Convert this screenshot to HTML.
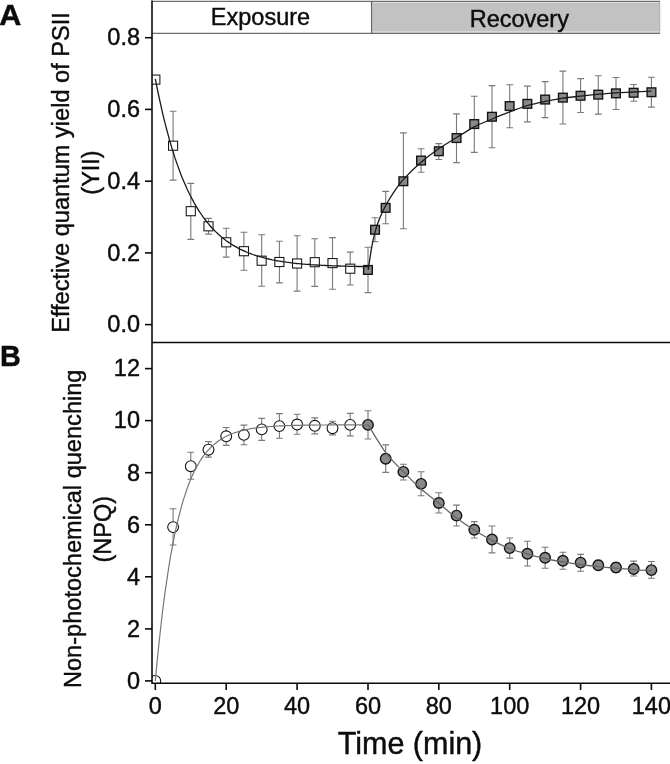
<!DOCTYPE html>
<html><head><meta charset="utf-8"><title>Figure</title>
<style>
html,body{margin:0;padding:0;background:#fff;}
body{width:670px;height:764px;position:relative;overflow:hidden;font-family:"Liberation Sans",sans-serif;}
</style></head><body>
<svg width="670" height="764" viewBox="0 0 670 764" style="position:absolute;left:0;top:0;transform:translateZ(0);will-change:transform">
<rect x="372" y="1.5" width="288" height="31.5" fill="#dedede"/>
<rect x="372.6" y="2.9" width="286.6" height="28.3" fill="#c2c2c2"/>
<g stroke="#6e6e6e" stroke-width="1.3" fill="none">
<path d="M152 1.3 H660"/><path d="M152 33.3 H660"/><path d="M371.6 1 V34" stroke="#666" stroke-width="1.3"/>
</g>
<path d="M659.7 2 V33" stroke="#aaa" stroke-width="1"/>
<defs><clipPath id="cp"><rect x="152" y="0" width="518" height="683.2"/></clipPath></defs>
<g clip-path="url(#cp)">
<g stroke="#7a7a7a" stroke-width="1.12" fill="none">
<path d="M173.1 111.3 V180.1 M169.7 111.3 H176.5 M169.7 180.1 H176.5"/>
<path d="M190.8 183.4 V239.4 M187.4 183.4 H194.2 M187.4 239.4 H194.2"/>
<path d="M208.5 218.4 V234.1 M205.1 218.4 H211.9 M205.1 234.1 H211.9"/>
<path d="M226.2 228.3 V257.1 M222.8 228.3 H229.6 M222.8 257.1 H229.6"/>
<path d="M243.9 232.2 V270.2 M240.5 232.2 H247.3 M240.5 270.2 H247.3"/>
<path d="M261.7 234.8 V286.2 M258.3 234.8 H265.1 M258.3 286.2 H265.1"/>
<path d="M279.4 241.2 V282.9 M276.0 241.2 H282.8 M276.0 282.9 H282.8"/>
<path d="M297.1 235.8 V291.1 M293.7 235.8 H300.5 M293.7 291.1 H300.5"/>
<path d="M314.8 238.7 V286.4 M311.4 238.7 H318.2 M311.4 286.4 H318.2"/>
<path d="M332.5 237.6 V289.3 M329.1 237.6 H335.9 M329.1 289.3 H335.9"/>
<path d="M350.2 252.1 V285.0 M346.8 252.1 H353.6 M346.8 285.0 H353.6"/>
<path d="M368.0 247.2 V292.6 M364.6 247.2 H371.4 M364.6 292.6 H371.4"/>
<path d="M375.0 217.7 V241.7 M371.6 217.7 H378.4 M371.6 241.7 H378.4"/>
<path d="M385.7 191.4 V223.7 M382.3 191.4 H389.1 M382.3 223.7 H389.1"/>
<path d="M403.4 132.9 V228.8 M400.0 132.9 H406.8 M400.0 228.8 H406.8"/>
<path d="M421.1 148.8 V172.2 M417.7 148.8 H424.5 M417.7 172.2 H424.5"/>
<path d="M438.8 143.6 V159.5 M435.4 143.6 H442.2 M435.4 159.5 H442.2"/>
<path d="M456.5 113.9 V162.6 M453.1 113.9 H459.9 M453.1 162.6 H459.9"/>
<path d="M474.3 96.3 V152.4 M470.9 96.3 H477.7 M470.9 152.4 H477.7"/>
<path d="M492.0 85.6 V147.8 M488.6 85.6 H495.4 M488.6 147.8 H495.4"/>
<path d="M509.7 84.8 V127.8 M506.3 84.8 H513.1 M506.3 127.8 H513.1"/>
<path d="M527.4 86.1 V121.9 M524.0 86.1 H530.8 M524.0 121.9 H530.8"/>
<path d="M545.1 81.6 V117.6 M541.7 81.6 H548.5 M541.7 117.6 H548.5"/>
<path d="M562.9 71.1 V124.0 M559.5 71.1 H566.3 M559.5 124.0 H566.3"/>
<path d="M580.6 78.6 V112.5 M577.2 78.6 H584.0 M577.2 112.5 H584.0"/>
<path d="M598.3 75.7 V114.1 M594.9 75.7 H601.7 M594.9 114.1 H601.7"/>
<path d="M616.0 77.5 V109.5 M612.6 77.5 H619.4 M612.6 109.5 H619.4"/>
<path d="M633.7 84.5 V101.2 M630.3 84.5 H637.1 M630.3 101.2 H637.1"/>
<path d="M651.4 77.3 V107.1 M648.0 77.3 H654.8 M648.0 107.1 H654.8"/>
</g>
<g stroke="#7a7a7a" stroke-width="1.12" fill="none">
<path d="M173.1 508.7 V545.0 M169.7 508.7 H176.5 M169.7 545.0 H176.5"/>
<path d="M190.8 452.3 V479.3 M187.4 452.3 H194.2 M187.4 479.3 H194.2"/>
<path d="M208.5 441.6 V457.1 M205.1 441.6 H211.9 M205.1 457.1 H211.9"/>
<path d="M226.2 427.5 V445.4 M222.8 427.5 H229.6 M222.8 445.4 H229.6"/>
<path d="M243.9 425.1 V444.7 M240.5 425.1 H247.3 M240.5 444.7 H247.3"/>
<path d="M261.7 418.4 V440.4 M258.3 418.4 H265.1 M258.3 440.4 H265.1"/>
<path d="M279.4 413.6 V438.2 M276.0 413.6 H282.8 M276.0 438.2 H282.8"/>
<path d="M297.1 414.2 V434.2 M293.7 414.2 H300.5 M293.7 434.2 H300.5"/>
<path d="M314.8 417.9 V433.9 M311.4 417.9 H318.2 M311.4 433.9 H318.2"/>
<path d="M332.5 421.3 V434.9 M329.1 421.3 H335.9 M329.1 434.9 H335.9"/>
<path d="M350.2 413.4 V435.9 M346.8 413.4 H353.6 M346.8 435.9 H353.6"/>
<path d="M368.0 410.8 V439.0 M364.6 410.8 H371.4 M364.6 439.0 H371.4"/>
<path d="M385.7 444.9 V472.4 M382.3 444.9 H389.1 M382.3 472.4 H389.1"/>
<path d="M403.4 464.3 V480.0 M400.0 464.3 H406.8 M400.0 480.0 H406.8"/>
<path d="M421.1 471.7 V495.8 M417.7 471.7 H424.5 M417.7 495.8 H424.5"/>
<path d="M438.8 492.8 V513.0 M435.4 492.8 H442.2 M435.4 513.0 H442.2"/>
<path d="M456.5 505.1 V526.0 M453.1 505.1 H459.9 M453.1 526.0 H459.9"/>
<path d="M474.3 521.6 V538.0 M470.9 521.6 H477.7 M470.9 538.0 H477.7"/>
<path d="M492.0 526.0 V552.9 M488.6 526.0 H495.4 M488.6 552.9 H495.4"/>
<path d="M509.7 538.0 V558.1 M506.3 538.0 H513.1 M506.3 558.1 H513.1"/>
<path d="M527.4 541.3 V566.0 M524.0 541.3 H530.8 M524.0 566.0 H530.8"/>
<path d="M545.1 547.3 V568.2 M541.7 547.3 H548.5 M541.7 568.2 H548.5"/>
<path d="M562.9 552.2 V569.3 M559.5 552.2 H566.3 M559.5 569.3 H566.3"/>
<path d="M580.6 554.4 V571.2 M577.2 554.4 H584.0 M577.2 571.2 H584.0"/>
<path d="M598.3 560.4 V569.7 M594.9 560.4 H601.7 M594.9 569.7 H601.7"/>
<path d="M616.0 562.6 V572.0 M612.6 562.6 H619.4 M612.6 572.0 H619.4"/>
<path d="M633.7 561.1 V576.0 M630.3 561.1 H637.1 M630.3 576.0 H637.1"/>
<path d="M651.4 561.5 V578.3 M648.0 561.5 H654.8 M648.0 578.3 H654.8"/>
</g>
<rect x="150.80" y="75.05" width="9.1" height="9.1" fill="#fff" stroke="#141414" stroke-width="1.05"/>
<rect x="168.52" y="141.15" width="9.1" height="9.1" fill="#fff" stroke="#141414" stroke-width="1.05"/>
<rect x="186.23" y="206.65" width="9.1" height="9.1" fill="#fff" stroke="#141414" stroke-width="1.05"/>
<rect x="203.95" y="221.75" width="9.1" height="9.1" fill="#fff" stroke="#141414" stroke-width="1.05"/>
<rect x="221.67" y="237.75" width="9.1" height="9.1" fill="#fff" stroke="#141414" stroke-width="1.05"/>
<rect x="239.39" y="246.65" width="9.1" height="9.1" fill="#fff" stroke="#141414" stroke-width="1.05"/>
<rect x="257.10" y="256.15" width="9.1" height="9.1" fill="#fff" stroke="#141414" stroke-width="1.05"/>
<rect x="274.82" y="257.45" width="9.1" height="9.1" fill="#fff" stroke="#141414" stroke-width="1.05"/>
<rect x="292.54" y="258.95" width="9.1" height="9.1" fill="#fff" stroke="#141414" stroke-width="1.05"/>
<rect x="310.26" y="257.65" width="9.1" height="9.1" fill="#fff" stroke="#141414" stroke-width="1.05"/>
<rect x="327.97" y="258.55" width="9.1" height="9.1" fill="#fff" stroke="#141414" stroke-width="1.05"/>
<rect x="345.69" y="264.15" width="9.1" height="9.1" fill="#fff" stroke="#141414" stroke-width="1.05"/>
<rect x="363.6" y="265.6" width="8.7" height="8.7" fill="#888" stroke="#141414" stroke-width="1.4"/>
<rect x="370.7" y="225.4" width="8.7" height="8.7" fill="#888" stroke="#141414" stroke-width="1.4"/>
<rect x="381.3" y="203.5" width="8.7" height="8.7" fill="#888" stroke="#141414" stroke-width="1.4"/>
<rect x="399.0" y="176.9" width="8.7" height="8.7" fill="#888" stroke="#141414" stroke-width="1.4"/>
<rect x="416.7" y="156.2" width="8.7" height="8.7" fill="#888" stroke="#141414" stroke-width="1.4"/>
<rect x="434.5" y="146.9" width="8.7" height="8.7" fill="#888" stroke="#141414" stroke-width="1.4"/>
<rect x="452.2" y="133.7" width="8.7" height="8.7" fill="#888" stroke="#141414" stroke-width="1.4"/>
<rect x="469.9" y="119.7" width="8.7" height="8.7" fill="#888" stroke="#141414" stroke-width="1.4"/>
<rect x="487.6" y="112.4" width="8.7" height="8.7" fill="#888" stroke="#141414" stroke-width="1.4"/>
<rect x="505.3" y="101.7" width="8.7" height="8.7" fill="#888" stroke="#141414" stroke-width="1.4"/>
<rect x="523.0" y="99.5" width="8.7" height="8.7" fill="#888" stroke="#141414" stroke-width="1.4"/>
<rect x="540.8" y="95.2" width="8.7" height="8.7" fill="#888" stroke="#141414" stroke-width="1.4"/>
<rect x="558.5" y="93.3" width="8.7" height="8.7" fill="#888" stroke="#141414" stroke-width="1.4"/>
<rect x="576.2" y="91.4" width="8.7" height="8.7" fill="#888" stroke="#141414" stroke-width="1.4"/>
<rect x="593.9" y="90.3" width="8.7" height="8.7" fill="#888" stroke="#141414" stroke-width="1.4"/>
<rect x="611.6" y="89.0" width="8.7" height="8.7" fill="#888" stroke="#141414" stroke-width="1.4"/>
<rect x="629.3" y="88.4" width="8.7" height="8.7" fill="#888" stroke="#141414" stroke-width="1.4"/>
<rect x="647.1" y="87.9" width="8.7" height="8.7" fill="#888" stroke="#141414" stroke-width="1.4"/>
<circle cx="155.3" cy="680.9" r="5.4" fill="#fff" stroke="#141414" stroke-width="1.1"/>
<circle cx="173.1" cy="527.1" r="5.4" fill="#fff" stroke="#141414" stroke-width="1.1"/>
<circle cx="190.8" cy="466.2" r="5.4" fill="#fff" stroke="#141414" stroke-width="1.1"/>
<circle cx="208.5" cy="449.7" r="5.4" fill="#fff" stroke="#141414" stroke-width="1.1"/>
<circle cx="226.2" cy="436.3" r="5.4" fill="#fff" stroke="#141414" stroke-width="1.1"/>
<circle cx="243.9" cy="434.9" r="5.4" fill="#fff" stroke="#141414" stroke-width="1.1"/>
<circle cx="261.7" cy="429.4" r="5.4" fill="#fff" stroke="#141414" stroke-width="1.1"/>
<circle cx="279.4" cy="426.1" r="5.4" fill="#fff" stroke="#141414" stroke-width="1.1"/>
<circle cx="297.1" cy="424.5" r="5.4" fill="#fff" stroke="#141414" stroke-width="1.1"/>
<circle cx="314.8" cy="425.8" r="5.4" fill="#fff" stroke="#141414" stroke-width="1.1"/>
<circle cx="332.5" cy="428.2" r="5.4" fill="#fff" stroke="#141414" stroke-width="1.1"/>
<circle cx="350.2" cy="424.9" r="5.4" fill="#fff" stroke="#141414" stroke-width="1.1"/>
<circle cx="368.0" cy="424.9" r="5.25" fill="#888" stroke="#141414" stroke-width="1.4"/>
<circle cx="385.7" cy="458.8" r="5.25" fill="#888" stroke="#141414" stroke-width="1.4"/>
<circle cx="403.4" cy="471.9" r="5.25" fill="#888" stroke="#141414" stroke-width="1.4"/>
<circle cx="421.1" cy="483.9" r="5.25" fill="#888" stroke="#141414" stroke-width="1.4"/>
<circle cx="438.8" cy="503.0" r="5.25" fill="#888" stroke="#141414" stroke-width="1.4"/>
<circle cx="456.5" cy="515.6" r="5.25" fill="#888" stroke="#141414" stroke-width="1.4"/>
<circle cx="474.3" cy="529.8" r="5.25" fill="#888" stroke="#141414" stroke-width="1.4"/>
<circle cx="492.0" cy="539.5" r="5.25" fill="#888" stroke="#141414" stroke-width="1.4"/>
<circle cx="509.7" cy="548.1" r="5.25" fill="#888" stroke="#141414" stroke-width="1.4"/>
<circle cx="527.4" cy="553.7" r="5.25" fill="#888" stroke="#141414" stroke-width="1.4"/>
<circle cx="545.1" cy="557.8" r="5.25" fill="#888" stroke="#141414" stroke-width="1.4"/>
<circle cx="562.9" cy="560.7" r="5.25" fill="#888" stroke="#141414" stroke-width="1.4"/>
<circle cx="580.6" cy="562.6" r="5.25" fill="#888" stroke="#141414" stroke-width="1.4"/>
<circle cx="598.3" cy="565.2" r="5.25" fill="#888" stroke="#141414" stroke-width="1.4"/>
<circle cx="616.0" cy="567.5" r="5.25" fill="#888" stroke="#141414" stroke-width="1.4"/>
<circle cx="633.7" cy="569.0" r="5.25" fill="#888" stroke="#141414" stroke-width="1.4"/>
<circle cx="651.4" cy="570.1" r="5.25" fill="#888" stroke="#141414" stroke-width="1.4"/>
<path d="M155.3 78.9 L157.1 87.9 L158.9 96.5 L160.7 104.6 L162.4 112.4 L164.2 119.8 L166.0 126.9 L167.8 133.6 L169.5 140.0 L171.3 146.1 L173.1 151.8 L174.8 157.4 L176.6 162.6 L178.4 167.6 L180.2 172.4 L181.9 176.9 L183.7 181.2 L185.5 185.3 L187.2 189.3 L189.0 193.0 L190.8 196.5 L192.6 199.9 L194.3 203.1 L196.1 206.2 L197.9 209.1 L199.6 211.9 L201.4 214.5 L203.2 217.1 L205.0 219.5 L206.7 221.7 L208.5 223.9 L210.3 226.0 L212.0 228.0 L213.8 229.8 L215.6 231.6 L217.4 233.3 L219.1 234.9 L220.9 236.5 L222.7 237.9 L224.4 239.3 L226.2 240.7 L228.0 241.9 L229.8 243.2 L231.5 244.3 L233.3 245.4 L235.1 246.4 L236.9 247.4 L238.6 248.4 L240.4 249.3 L242.2 250.1 L243.9 250.9 L245.7 251.7 L247.5 252.5 L249.3 253.2 L251.0 253.8 L252.8 254.5 L254.6 255.1 L256.3 255.7 L258.1 256.2 L259.9 256.7 L261.7 257.2 L263.4 257.7 L265.2 258.2 L267.0 258.6 L268.7 259.0 L270.5 259.4 L272.3 259.8 L274.1 260.1 L275.8 260.5 L277.6 260.8 L279.4 261.1 L281.1 261.4 L282.9 261.7 L284.7 261.9 L286.5 262.2 L288.2 262.4 L290.0 262.6 L291.8 262.9 L293.5 263.1 L295.3 263.3 L297.1 263.5 L298.9 263.6 L300.6 263.8 L302.4 264.0 L304.2 264.1 L305.9 264.3 L307.7 264.4 L309.5 264.5 L311.3 264.7 L313.0 264.8 L314.8 264.9 L316.6 265.0 L318.4 265.1 L320.1 265.2 L321.9 265.3 L323.7 265.4 L325.4 265.5 L327.2 265.6 L329.0 265.6 L330.8 265.7 L332.5 265.8 L334.3 265.8 L336.1 265.9 L337.8 266.0 L339.6 266.0 L341.4 266.1 L343.2 266.1 L344.9 266.2 L346.7 266.2 L348.5 266.3 L350.2 266.3 L352.0 266.4 L353.8 266.4 L355.6 266.4 L357.3 266.5 L359.1 266.5 L360.9 266.5 L362.6 266.6 L364.4 266.6 L366.2 266.6 L368.0 266.7" stroke="#1a1a1a" stroke-width="1.3" fill="none"/>
<path d="M368.2 270.0 C368.8 266.4 370.4 254.8 371.5 248.4 C372.6 242.0 373.7 237.0 375.1 231.8 C376.5 226.6 378.2 221.8 380.0 217.4 C381.8 213.1 383.3 210.0 385.6 205.7 C387.9 201.5 391.1 196.2 394.0 191.9 C396.9 187.6 398.7 184.5 403.2 179.6 C407.7 174.7 414.9 167.7 420.8 162.6 C426.7 157.5 432.7 152.9 438.6 148.8 C444.5 144.7 450.2 141.5 456.2 137.8 C462.2 134.1 468.4 129.9 474.4 126.8 C480.4 123.7 486.2 121.5 492.1 119.0 C498.0 116.5 503.8 114.2 509.7 111.9 C515.6 109.7 521.4 107.2 527.3 105.5 C533.2 103.8 539.2 102.6 545.1 101.4 C551.0 100.2 556.9 99.1 562.8 98.2 C568.7 97.3 574.6 96.8 580.5 96.1 C586.4 95.4 592.4 94.8 598.3 94.2 C604.2 93.7 610.1 93.2 616.0 92.8 C621.9 92.4 627.8 92.3 633.7 92.0 C639.6 91.7 648.5 91.3 651.5 91.2" stroke="#1a1a1a" stroke-width="1.3" fill="none"/>
<path d="M155.3 680.9 L157.1 661.8 L158.9 644.1 L160.7 627.8 L162.4 612.6 L164.2 598.6 L166.0 585.7 L167.8 573.7 L169.5 562.6 L171.3 552.3 L173.1 542.8 L174.8 534.0 L176.6 525.8 L178.4 518.3 L180.2 511.3 L181.9 504.9 L183.7 498.9 L185.5 493.4 L187.2 488.3 L189.0 483.5 L190.8 479.1 L192.6 475.1 L194.3 471.3 L196.1 467.9 L197.9 464.7 L199.6 461.7 L201.4 458.9 L203.2 456.4 L205.0 454.0 L206.7 451.9 L208.5 449.8 L210.3 448.0 L212.0 446.2 L213.8 444.6 L215.6 443.2 L217.4 441.8 L219.1 440.5 L220.9 439.4 L222.7 438.3 L224.4 437.3 L226.2 436.3 L228.0 435.5 L229.8 434.7 L231.5 433.9 L233.3 433.3 L235.1 432.6 L236.9 432.1 L238.6 431.5 L240.4 431.0 L242.2 430.6 L243.9 430.1 L245.7 429.7 L247.5 429.4 L249.3 429.0 L251.0 428.7 L252.8 428.4 L254.6 428.1 L256.3 427.9 L258.1 427.7 L259.9 427.5 L261.7 427.3 L263.4 427.1 L265.2 426.9 L267.0 426.8 L268.7 426.6 L270.5 426.5 L272.3 426.4 L274.1 426.2 L275.8 426.1 L277.6 426.0 L279.4 425.9 L281.1 425.9 L282.9 425.8 L284.7 425.7 L286.5 425.6 L288.2 425.6 L290.0 425.5 L291.8 425.5 L293.5 425.4 L295.3 425.4 L297.1 425.3 L298.9 425.3 L300.6 425.3 L302.4 425.2 L304.2 425.2 L305.9 425.2 L307.7 425.1 L309.5 425.1 L311.3 425.1 L313.0 425.1 L314.8 425.1 L316.6 425.0 L318.4 425.0 L320.1 425.0 L321.9 425.0 L323.7 425.0 L325.4 425.0 L327.2 425.0 L329.0 424.9 L330.8 424.9 L332.5 424.9 L334.3 424.9 L336.1 424.9 L337.8 424.9 L339.6 424.9 L341.4 424.9 L343.2 424.9 L344.9 424.9 L346.7 424.9 L348.5 424.9 L350.2 424.9 L352.0 424.9 L353.8 424.9 L355.6 424.9 L357.3 424.9 L359.1 424.8 L360.9 424.8 L362.6 424.8 L364.4 424.8 L366.2 424.8 L368.0 424.8" stroke="#777" stroke-width="1.2" fill="none"/>
<path d="M368.1 424.9 C371.1 429.5 379.9 444.8 385.8 452.6 C391.7 460.4 397.6 465.8 403.5 471.9 C409.4 478.0 415.2 483.9 421.1 489.1 C427.0 494.3 432.9 498.2 438.7 503.0 C444.5 507.8 450.2 513.3 456.2 517.8 C462.2 522.3 468.5 526.5 474.5 530.2 C480.5 534.0 486.1 537.2 492.0 540.3 C497.9 543.3 503.7 546.2 509.6 548.5 C515.5 550.8 521.6 552.4 527.5 554.1 C533.4 555.8 539.1 557.2 545.0 558.5 C550.9 559.8 557.0 560.9 562.9 561.9 C568.8 562.9 574.5 563.7 580.4 564.5 C586.3 565.3 592.5 566.1 598.4 566.7 C604.3 567.3 610.0 567.7 615.9 568.2 C621.8 568.7 627.8 569.3 633.8 569.7 C639.8 570.1 648.7 570.6 651.7 570.8" stroke="#666" stroke-width="1.3" fill="none"/>
</g>
<g stroke="#0a0a0a" stroke-width="1.6" fill="none">
<path d="M152 0.5 V684"/>
<path d="M152 342.5 H670" stroke-width="1.4"/>
<path d="M152 683.3 H670"/>
<path d="M145 324.6 H152"/>
<path d="M145 252.9 H152"/>
<path d="M145 181.2 H152"/>
<path d="M145 109.4 H152"/>
<path d="M145 37.7 H152"/>
<path d="M145 680.9 H152"/>
<path d="M145 628.9 H152"/>
<path d="M145 576.8 H152"/>
<path d="M145 524.8 H152"/>
<path d="M145 472.7 H152"/>
<path d="M145 420.6 H152"/>
<path d="M145 368.6 H152"/>
<path d="M155.3 683 V690"/>
<path d="M226.2 683 V690"/>
<path d="M297.1 683 V690"/>
<path d="M368.0 683 V690"/>
<path d="M438.8 683 V690"/>
<path d="M509.7 683 V690"/>
<path d="M580.6 683 V690"/>
<path d="M651.4 683 V690"/>
</g>
<g font-family="Liberation Sans, sans-serif" fill="#0c0c0c" stroke="#0c0c0c" stroke-width="0.42">
<text x="140" y="332.3" font-size="23.5" text-anchor="end">0.0</text>
<text x="140" y="260.6" font-size="23.5" text-anchor="end">0.2</text>
<text x="140" y="188.9" font-size="23.5" text-anchor="end">0.4</text>
<text x="140" y="117.1" font-size="23.5" text-anchor="end">0.6</text>
<text x="140" y="45.4" font-size="23.5" text-anchor="end">0.8</text>
<text x="140" y="688.7" font-size="23.5" text-anchor="end">0</text>
<text x="140" y="636.6" font-size="23.5" text-anchor="end">2</text>
<text x="140" y="584.6" font-size="23.5" text-anchor="end">4</text>
<text x="140" y="532.5" font-size="23.5" text-anchor="end">6</text>
<text x="140" y="480.5" font-size="23.5" text-anchor="end">8</text>
<text x="140" y="428.4" font-size="23.5" text-anchor="end">10</text>
<text x="140" y="376.4" font-size="23.5" text-anchor="end">12</text>
<text x="155.3" y="713.8" font-size="23.5" text-anchor="middle">0</text>
<text x="226.2" y="713.8" font-size="23.5" text-anchor="middle">20</text>
<text x="297.1" y="713.8" font-size="23.5" text-anchor="middle">40</text>
<text x="368.0" y="713.8" font-size="23.5" text-anchor="middle">60</text>
<text x="438.8" y="713.8" font-size="23.5" text-anchor="middle">80</text>
<text x="509.7" y="713.8" font-size="23.5" text-anchor="middle">100</text>
<text x="580.6" y="713.8" font-size="23.5" text-anchor="middle">120</text>
<text x="651.4" y="713.8" font-size="23.5" text-anchor="middle">140</text>
<text x="260.5" y="24.6" font-size="23.5" text-anchor="middle">Exposure</text>
<text x="519.3" y="26.5" font-size="23.5" text-anchor="middle">Recovery</text>
<text x="410" y="753.7" font-size="30.5" text-anchor="middle">Time (min)</text>
<text transform="translate(-0.7 24.5) scale(1.065 1)" font-size="28.7" font-weight="bold">A</text>
<text x="0.1" y="366.3" font-size="28.8" font-weight="bold">B</text>
<text transform="translate(69 172.5) rotate(-90)" font-size="23.58" text-anchor="middle">Effective quantum yield of PSII</text>
<text transform="translate(99 172.5) rotate(-90)" font-size="23.5" text-anchor="middle">(YII)</text>
<text transform="translate(81 528.8) rotate(-90)" font-size="23.58" text-anchor="middle">Non-photochemical quenching</text>
<text transform="translate(111 529.3) rotate(-90)" font-size="23.5" text-anchor="middle">(NPQ)</text>
</g>
</svg>
</body></html>
